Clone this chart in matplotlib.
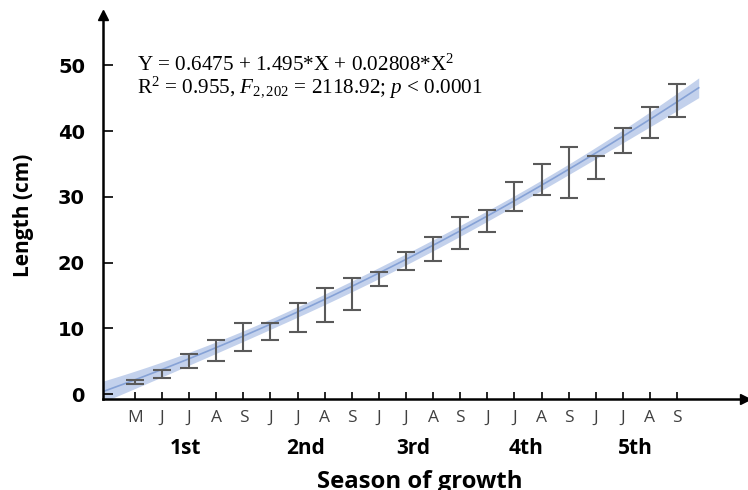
"""Length versus season of growth with quadratic regression fit."""

import numpy as np
from matplotlib import pyplot as plt

plt.rcParams["mathtext.fontset"] = "custom"
plt.rcParams["mathtext.rm"] = "Liberation Serif"
plt.rcParams["mathtext.it"] = "Liberation Serif:italic"

# sampling months (X = 1..21) and tick labels
month_index = [1, 2, 3, 4, 5, 6, 7, 8, 9, 10, 11, 12, 13, 14, 15, 16, 17, 18, 19, 20, 21]
month_labels = ["M", "J", "J", "A", "S", "J", "J", "A", "S", "J", "J", "A", "S",
                "J", "J", "A", "S", "J", "J", "A", "S"]

# mean length (cm) and error (cm)
mean_length = [1.8, 3.0, 5.0, 6.65, 8.7, 9.5, 11.7, 13.55, 15.2, 17.5, 20.25,
               22.1, 24.5, 26.35, 30.1, 32.65, 33.7, 34.45, 38.6, 41.3, 44.6]
err_length = [0.3, 0.6, 1.1, 1.55, 2.15, 1.3, 2.2, 2.65, 2.4, 1.0, 1.4,
              1.8, 2.5, 1.65, 2.2, 2.35, 3.9, 1.75, 1.9, 2.4, 2.5]

# regression coefficients given in the annotation
coef = [0.6475, 1.495, 0.02808]

seasons = ["1st", "2nd", "3rd", "4th", "5th"]
season_pos = [2.88, 7.3, 11.26, 15.43, 19.45]

fig = plt.figure(figsize=(7.48, 4.90), dpi=100)
ax = fig.add_axes([0.1377, 0.1857, 0.858, 0.783])

x_min, x_max = -0.18, 23.5
y_min, y_max = -0.75, 57.6

# fitted curve with a confidence band from the leverage of the sampled months
xs = np.linspace(x_min, 21.8, 200)
fit = coef[0] + coef[1] * xs + coef[2] * xs ** 2
design = np.column_stack([np.ones(len(month_index)), month_index, np.square(month_index)])
inv = np.linalg.inv(design.T @ design)
grid = np.column_stack([np.ones_like(xs), xs, xs ** 2])
lev = np.einsum("ij,jk,ik->i", grid, inv, grid)
half = 1.8 * np.sqrt(lev) + 0.25
ax.fill_between(xs, fit - half, fit + half, color="#c3d1ec", lw=0)
ax.plot(xs, fit, color="#86a2d6", lw=1.2)

ax.errorbar(month_index, mean_length, yerr=err_length, fmt="none",
            ecolor="#5a5a5a", elinewidth=1.5, capsize=6.5, capthick=1.5)

ax.set_xlim(x_min, x_max)
ax.set_ylim(y_min, y_max)

for side in ["top", "right"]:
    ax.spines[side].set_visible(False)
for side in ["left", "bottom"]:
    ax.spines[side].set_linewidth(1.8)

# axis arrows
ax.plot(1, 0, ">k", ms=7, transform=ax.transAxes, clip_on=False)
ax.plot(0, 1, "^k", ms=7, transform=ax.transAxes, clip_on=False)

ax.set_yticks([0, 10, 20, 30, 40, 50])
ax.tick_params(axis="y", direction="in", length=7, width=1.2, pad=13,
               labelsize=14)
for lab in ax.get_yticklabels():
    lab.set_fontweight("bold")
    lab.set_fontfamily("DejaVu Sans")

ax.set_xticks(month_index)
ax.set_xticklabels(month_labels, fontfamily="Open Sans", fontsize=12.5, color="#404040")
ax.tick_params(axis="x", direction="in", length=5, width=1.2, pad=8)

for name, pos in zip(seasons, season_pos):
    ax.text(pos, -0.13, name, transform=ax.get_xaxis_transform(), ha="center",
            va="center", fontsize=15, fontweight="bold", fontfamily="Open Sans")

ax.text(0.494, -0.186, "Season of growth", transform=ax.transAxes, ha="center",
        va="top", fontsize=17.2, fontweight="bold", fontfamily="Open Sans")
ax.set_ylabel("Length (cm)", fontsize=15, fontweight="bold", fontfamily="Open Sans")
ax.yaxis.set_label_coords(-0.108, 0.48)

ax.text(0.053, 0.870, "Y = 0.6475 + 1.495*X + 0.02808*X$^2$", transform=ax.transAxes,
        fontsize=15.2, fontfamily="Liberation Serif", va="center")
ax.text(0.053, 0.812, r"R$^2$ = 0.955, $F_{\mathrm{2,202}}$ = 2118.92; $p$ < 0.0001",
        transform=ax.transAxes, fontsize=15.2, fontfamily="Liberation Serif", va="center")

fig.savefig("out.png", dpi=100)
